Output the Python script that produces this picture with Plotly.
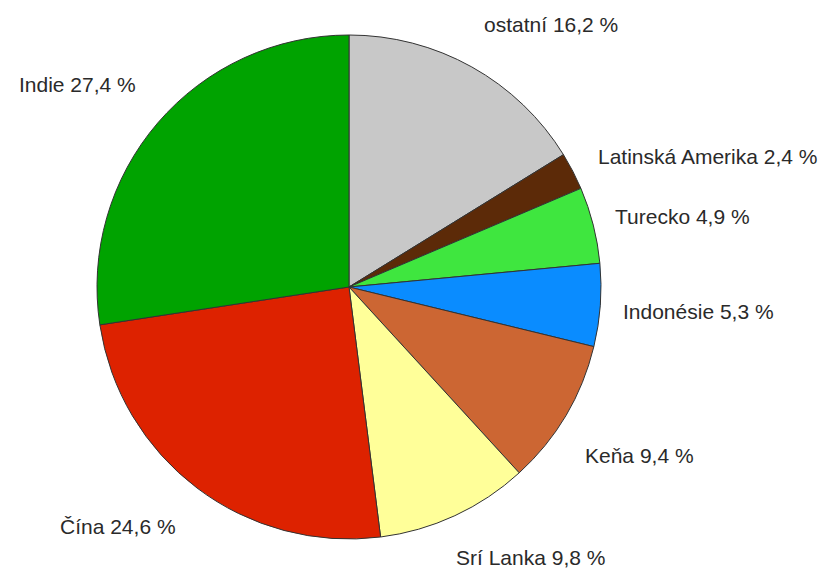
import plotly.graph_objects as go

labels = ["ostatní", "Latinská Amerika", "Turecko", "Indonésie", "Keňa", "Srí Lanka", "Čína", "Indie"]
values = [16.2, 2.4, 4.9, 5.3, 9.4, 9.8, 24.6, 27.4]
colors = ["#C8C8C8", "#5C2A08", "#3FE63F", "#0A8CFF", "#CC6633", "#FFFF99", "#DD2200", "#00A300"]
# label centre positions in pixels (x, y from top)
label_px = [(551, 25), (707, 157), (682, 217), (698, 311), (639, 455), (530, 557), (118, 526), (77, 85)]

W, H = 829, 577
cx, cy, r = 349, 287, 252

fig = go.Figure(go.Pie(
    labels=labels, values=values, sort=False, direction="clockwise", rotation=0,
    marker=dict(colors=colors, line=dict(color="#333333", width=1)),
    textinfo="none", hoverinfo="label+percent", showlegend=False,
    domain=dict(x=[(cx - r) / W, (cx + r) / W], y=[(H - cy - r) / H, (H - cy + r) / H]),
))

for lab, val, (px, py) in zip(labels, values, label_px):
    fig.add_annotation(
        x=px / W, y=1 - py / H, xref="paper", yref="paper",
        text=f"{lab} {str(val).replace('.', ',')} %", showarrow=False,
        xanchor="center", yanchor="middle",
        font=dict(family="Liberation Sans, Arial, sans-serif", size=21, color="#2a2a2a"),
    )

fig.update_layout(width=W, height=H, margin=dict(l=0, r=0, t=0, b=0),
                  paper_bgcolor="white", plot_bgcolor="white")
fig.write_html("out.html")
